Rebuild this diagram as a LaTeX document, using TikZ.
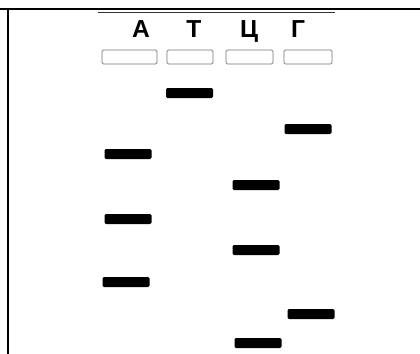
\documentclass[tikz,border=0pt]{standalone}
\usepackage{fontspec}
\setmainfont{Liberation Sans}
\usetikzlibrary{positioning}

\begin{document}
\begin{tikzpicture}[x=0.05cm,y=-0.05cm,
  well/.style={draw=black!55,line width=1pt,rounded corners=2pt,minimum height=0.7cm,inner sep=0pt},
  band/.style={fill=black,rounded corners=2pt,minimum width=2.35cm,minimum height=0.5cm,inner sep=0pt},
  lane/.style={font=\bfseries\fontsize{35}{35}\selectfont,inner sep=0pt,anchor=base}]
\useasboundingbox (0,0) rectangle (420,354);
% table frame
\draw[line width=2.8pt] (0,9) -- (420,9);
\draw[line width=2.8pt] (8,9) -- (8,354);
\draw[line width=1.2pt,black!80] (98,12.5) -- (335,12.5);
% lanes
\foreach \n/\x/\lx/\w/\name in {1/129.5/141/2.75/А,2/190/194/2.3/Т,3/249.5/249/2.35/Ц,4/308/298/2.4/Г}{
  \node[lane] (L\n) at (\lx,37) {\name};
  \node[well,minimum width=\w cm] (W\n) at (\x,57) {};
}
% bands
\foreach \k/\x/\y in {1/189.5/93,2/308/129,3/128/154,4/256/185,5/128/219,6/256/250,7/126/282,8/311/314,9/258/343}{
  \node[band] (B\k) at (\x,\y) {};
}
\end{tikzpicture}
\end{document}
